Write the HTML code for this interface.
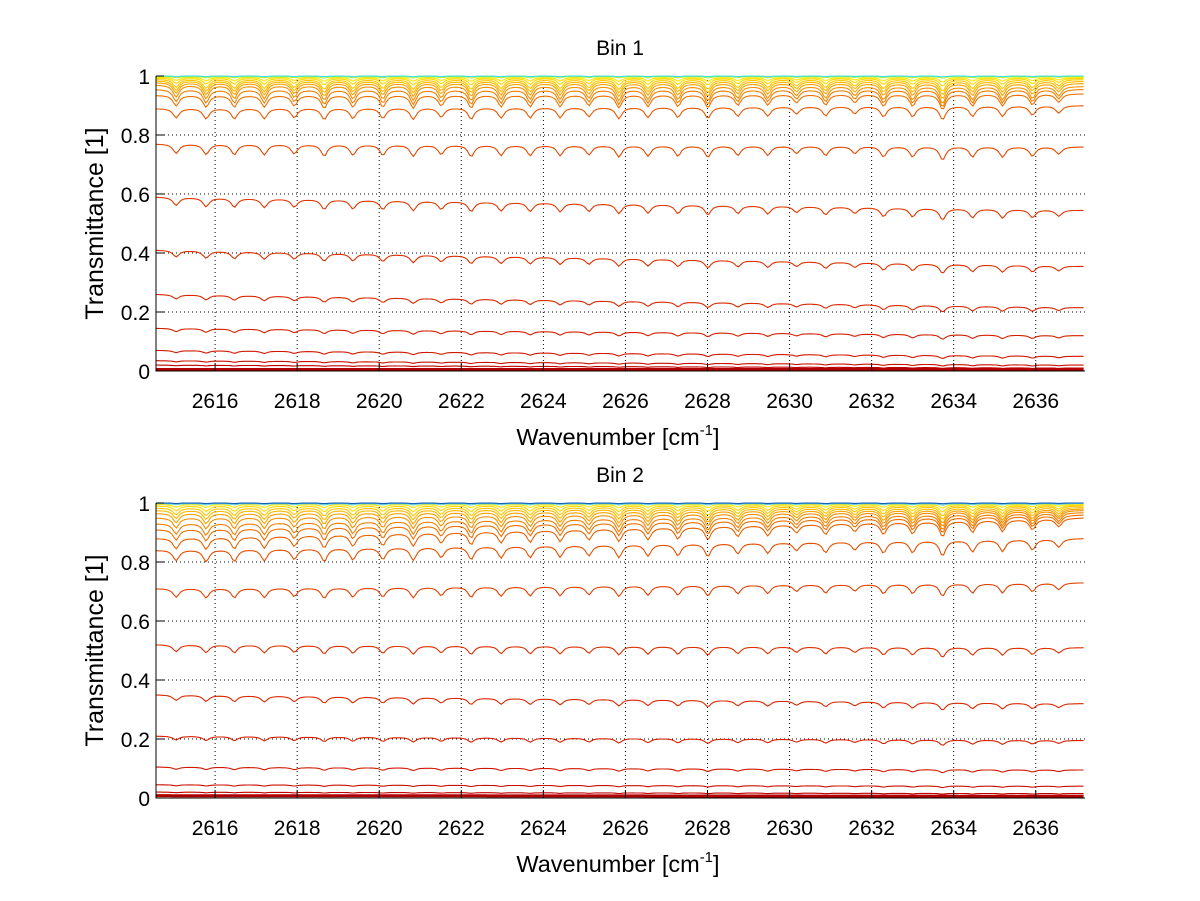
<!DOCTYPE html>
<html><head><meta charset="utf-8"><style>
html,body{margin:0;padding:0;background:#fff;}
svg{display:block;font-family:"Liberation Sans",sans-serif;}
</style></head><body>
<svg id="chart" width="1200" height="901" viewBox="0 0 1200 901"></svg>
<script>
// ---- data ----
const xTicks = [2616,2618,2620,2622,2624,2626,2628,2630,2632,2634,2636];
const yTicks = [0,0.2,0.4,0.6,0.8,1];
const yTickLabels = ["0","0.2","0.4","0.6","0.8","1"];
const lineCenters = [2615.05,2615.78,2616.47,2617.2,2617.93,2618.66,2619.36,2620.09,2620.83,2621.51,2622.24,2622.97,2623.68,2624.41,2625.11,2625.84,2626.55,2627.28,2628.01,2628.74,2629.47,2630.17,2630.88,2631.59,2632.29,2633.0,2633.73,2634.46,2635.19,2635.92,2636.56];
const lineStrengths = [0.9,1.0,1.0,1.0,0.9,1.1,1.0,1.0,1.1,0.9,1.1,1.0,1.0,1.0,0.9,1.1,1.0,1.0,1.1,0.9,0.9,0.7,0.9,0.7,1.0,1.0,1.3,1.0,1.0,0.9,0.7];
// Bin 1 series
const bin1Left  = [0.005,0.02,0.035,0.07,0.145,0.26,0.41,0.59,0.77,0.89,0.935,0.955,0.97,0.978,0.984,0.989,0.993,0.996,0.998,1.0];
const bin1Right = [0.005,0.01,0.02,0.05,0.12,0.215,0.355,0.545,0.76,0.90,0.94,0.955,0.965,0.975,0.982,0.988,0.992,0.995,0.998,1.0];
const bin1Depth = [0,0.002,0.004,0.008,0.012,0.016,0.024,0.03,0.035,0.035,0.04,0.045,0.045,0.04,0.035,0.03,0.02,0.012,0.004,0.002];
const bin1Colors= ["#b00000","#c00000","#c81000","#d01800","#d42000","#d82800","#dc3000","#e03800","#e44800","#e85800","#ee7000","#f08000","#f49000","#f8a400","#fbb800","#fdc800","#ffd800","#ffe800","#b0f040","#40e0e0"];
// Bin 2 series
const bin2Left  = [0.008,0.02,0.045,0.105,0.21,0.35,0.52,0.71,0.84,0.88,0.91,0.93,0.95,0.965,0.975,0.983,0.99,0.995,0.998,1.0];
const bin2Right = [0.006,0.015,0.04,0.095,0.195,0.32,0.51,0.73,0.88,0.95,0.96,0.968,0.975,0.98,0.985,0.99,0.993,0.996,0.998,1.0];
const bin2Depth = [0,0.002,0.004,0.008,0.014,0.02,0.026,0.032,0.04,0.04,0.04,0.04,0.038,0.035,0.03,0.025,0.018,0.01,0.004,0.002];
const bin2Colors= ["#b00000","#c00000","#c81000","#d01800","#d42000","#d82800","#dc3000","#e04000","#e45000","#e86000","#ee7000","#f08000","#f49000","#f8a400","#fbb800","#fdc800","#ffd800","#ffe800","#60d0d0","#1060c0"];

const NS="http://www.w3.org/2000/svg";
const svg=document.getElementById('chart');
function mk(tag,attrs,parent){const e=document.createElementNS(NS,tag);for(const k in attrs)e.setAttribute(k,attrs[k]);(parent||svg).appendChild(e);return e;}
const XMIN=2614.56, XMAX=2637.2;
function drawPanel(top,title,left,right,depth,colors,pname){
  const x0=156,x1=1085,yTop=top,yBot=top+295;
  const X=v=>x0+(v-XMIN)/(XMAX-XMIN)*(x1-x0);
  const Y=v=>yBot-v*(yBot-yTop);
  const g=mk('g',{});
  
  
  xTicks.forEach(t=>{const l=mk('line',{x1:X(t),x2:X(t),y1:yTop,y2:yBot,stroke:'#000','stroke-width':1,'stroke-dasharray':'1,3'},g);
    });
  yTicks.slice(1,5).forEach(t=>{const l=mk('line',{x1:x0,x2:x1,y1:Y(t),y2:Y(t),stroke:'#000','stroke-width':1,'stroke-dasharray':'1,3'},g);
    });
  for(let i=0;i<left.length;i++){
    let pts=[];
    for(let v=XMIN;v<=XMAX+1e-9;v+=0.055){
      const f=(v-XMIN)/(XMAX-XMIN);
      let base=left[i]+(right[i]-left[i])*f;
      let a=0;
      for(let j=0;j<lineCenters.length;j++){const d=(v-lineCenters[j])/0.09;a+=lineStrengths[j]/(1+d*d);}
      let t=Math.min(1,base-depth[i]*a);
      pts.push(X(v).toFixed(1)+','+Y(t).toFixed(1));
    }
    const p=mk('polyline',{points:pts.join(' '),fill:'none',stroke:colors[i],'stroke-width':i===0?3:1.1},g);
    
    
  }
  const ax=mk('path',{d:`M${x0},${yTop}V${yBot}H${x1}`,stroke:'#000','stroke-width':1,fill:'none'},g);
  
  xTicks.forEach(t=>{mk('line',{x1:X(t),x2:X(t),y1:yBot,y2:yBot-8,stroke:'#000'},g);
    const tx=mk('text',{x:X(t),y:yBot+37,'font-size':21,'text-anchor':'middle'},g);tx.textContent=t;
    });
  yTicks.forEach((t,i)=>{mk('line',{x1:x0,x2:x0+8,y1:Y(t),y2:Y(t),stroke:'#000'},g);
    const tx=mk('text',{x:150,y:Y(t)+8,'font-size':21,'text-anchor':'end'},g);tx.textContent=yTickLabels[i];
    });
  const tt=mk('text',{x:620,y:top-21,'font-size':21,'text-anchor':'middle'},g);tt.textContent=title;
  
  const xl=mk('text',{x:618,y:yBot+74,'font-size':23.5,'text-anchor':'middle'},g);
  
  xl.appendChild(document.createTextNode('Wavenumber [cm'));
  const sp=mk('tspan',{'font-size':15,dy:-10},xl);sp.textContent='-1';
  const sp2=mk('tspan',{dy:10},xl);sp2.textContent=']';
  const yl=mk('text',{x:0,y:0,'font-size':25,'text-anchor':'middle',transform:`translate(103,${(yTop+yBot)/2}) rotate(-90)`},g);
  yl.textContent='Transmittance [1]';
  
}
drawPanel(76,'Bin 1',bin1Left,bin1Right,bin1Depth,bin1Colors,'bin-1-panel');
drawPanel(503,'Bin 2',bin2Left,bin2Right,bin2Depth,bin2Colors,'bin-2-panel');
</script>
</body></html>
